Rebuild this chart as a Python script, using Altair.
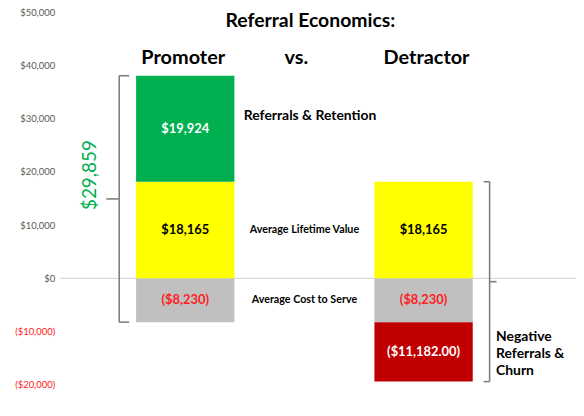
import altair as alt
import pandas as pd

FONT = "Lato"

cats = ["Promoter", "vs.", "Detractor"]
seg_bar = ["Promoter", "Promoter", "Promoter", "Detractor", "Detractor", "Detractor"]
seg_name = ["Average Cost to Serve", "Average Lifetime Value", "Referrals & Retention",
            "Average Cost to Serve", "Average Lifetime Value", "Negative Referrals & Churn"]
seg_value = [-8230, 18165, 19924, -8230, 18165, -11182]
seg_label = ["($8,230)", "$18,165", "$19,924", "($8,230)", "$18,165", "($11,182.00)"]
seg_text_color = ["#ff2020", "#000000", "#ffffff", "#ff2020", "#000000", "#ffffff"]
fill_domain = ["Average Cost to Serve", "Average Lifetime Value", "Referrals & Retention",
               "Negative Referrals & Churn"]
fill_range = ["#c0c0c0", "#ffff00", "#00b050", "#c00000"]
tick_values = [-20000, -10000, 0, 10000, 20000, 30000, 40000, 50000]

# stack segments
rows, pos, neg = [], {}, {}
for b, n, v, l, tc in zip(seg_bar, seg_name, seg_value, seg_label, seg_text_color):
    if v >= 0:
        y0 = pos.get(b, 0); y1 = y0 + v; pos[b] = y1
    else:
        y0 = neg.get(b, 0); y1 = y0 + v; neg[b] = y1
    rows.append(dict(bar=b, seg=n, y0=y0, y1=y1, mid=(y0 + y1) / 2, label=l, tcolor=tc))
segs = pd.DataFrame(rows)

def bracket_df(bar):
    s = segs[segs.bar == bar]
    top, bot = max(s.y1.max(), s.y0.max()), min(s.y1.min(), s.y0.min())
    return pd.DataFrame({"bar": [bar], "top": [top], "bot": [bot], "mid": [(top + bot) / 2],
                         "total": [f"${top + bot:,.0f}"]})

br_left = bracket_df("Promoter")
br_right = bracket_df("Detractor")

xscale = alt.Scale(domain=cats, paddingInner=0.175, paddingOuter=0.754, align=0.4254)
yscale = alt.Scale(domain=[-20000, 50000], nice=False, zero=False)
yaxis = alt.Axis(values=tick_values, domain=False, ticks=False, grid=False,
                 labelPadding=5, labelFont=FONT, labelFontSize=9.5,
                 labelExpr="datum.value < 0 ? '($' + format(-datum.value, ',') + ')' : '$' + format(datum.value, ',')",
                 labelColor=alt.expr("datum.value < 0 ? '#ff2020' : '#595959'"))

def X(bp=None):
    if bp is None:
        return alt.X("bar:N", scale=xscale, axis=None)
    return alt.X("bar:N", scale=xscale, axis=None, bandPosition=bp)

def Yq(f):
    return alt.Y(f"{f}:Q", scale=yscale, axis=yaxis, title=None)

GRAY = "#7f7f7f"

zero = alt.Chart(pd.DataFrame({"y": [0]})).mark_rule(color="#d9d9d9", strokeWidth=1.2).encode(
    y=Yq("y"))

bars = alt.Chart(segs).mark_rect().encode(
    x=X(), y=Yq("y0"), y2="y1:Q",
    color=alt.Color("seg:N", scale=alt.Scale(domain=fill_domain, range=fill_range), legend=None),
)

bar_text = alt.Chart(segs).mark_text(font=FONT, fontWeight="bold", fontSize=13).encode(
    x=X(), y=Yq("mid"), text="label:N", color=alt.Color("tcolor:N", scale=None)
)

mid_df = segs[(segs.bar == "Promoter") & (segs.seg.isin(["Average Cost to Serve", "Average Lifetime Value"]))].assign(bar="vs.")
mid_text = alt.Chart(mid_df).mark_text(font=FONT, fontWeight="bold", fontSize=10.8).encode(
    x=X(), y=Yq("mid"), text="seg:N"
)

ref_df = segs[segs.seg == "Referrals & Retention"].assign(bar="vs.")
ref_text = alt.Chart(ref_df).mark_text(font=FONT, fontWeight="bold", fontSize=14, align="left",
                                       dx=-61, dy=-13).encode(x=X(), y=Yq("mid"), text="seg:N")

neg_df = segs[segs.seg == "Negative Referrals & Churn"].assign(txt="Negative\nReferrals &\nChurn")
neg_text = alt.Chart(neg_df).mark_text(font=FONT, fontWeight="bold", fontSize=14, align="left",
                                       lineBreak="\n", lineHeight=17, dx=73, dy=-15).encode(
    x=X(), y=Yq("mid"), text="txt:N")

def bracket(df, bp, vx, cap_from, tick_to):
    v = alt.Chart(df).mark_rule(color=GRAY, strokeWidth=1.6, xOffset=vx).encode(
        x=X(bp), y=Yq("top"), y2="bot:Q")
    caps_df = pd.concat([df.assign(yy=df.top), df.assign(yy=df.bot)])
    caps = alt.Chart(caps_df).mark_rule(color=GRAY, strokeWidth=1.6, xOffset=cap_from, x2Offset=vx).encode(
        x=X(bp), x2=alt.X2("bar:N", bandPosition=bp), y=Yq("yy"))
    tick = alt.Chart(df).mark_rule(color=GRAY, strokeWidth=1.6, xOffset=vx, x2Offset=tick_to).encode(
        x=X(bp), x2=alt.X2("bar:N", bandPosition=bp), y=Yq("mid"))
    return v + caps + tick

left_br = bracket(br_left, 0, -17, -7, -30)
right_br = bracket(br_right, 1, 17, 11, 24)

total_text = alt.Chart(br_left).mark_text(font=FONT, fontSize=19, color="#00b050", angle=270,
                                          xOffset=-46, yOffset=-24).encode(
    x=X(0), y=Yq("mid"), text="total:N")

hdr_offsets = {"Promoter": -2, "vs.": -8, "Detractor": 3}
headers = None
for c in cats:
    h = alt.Chart(pd.DataFrame({"bar": [c]})).mark_text(
        font=FONT, fontWeight="bold", fontSize=20, dx=hdr_offsets[c]).encode(
        x=X(), y=alt.value(46), text="bar:N")
    headers = h if headers is None else headers + h

title_text = alt.Chart(pd.DataFrame({"bar": ["vs."], "t": ["Referral Economics:"]})).mark_text(
    font=FONT, fontWeight="bold", fontSize=19.5, dx=6).encode(x=X(), y=alt.value(9), text="t:N")

chart = alt.layer(zero, bars, bar_text, mid_text, ref_text, neg_text, left_br, right_br,
                  total_text, headers, title_text).properties(
    width=520, height=375, autosize="none",
    padding={"left": 52, "top": 3, "right": 0, "bottom": 20},
    background="white",
).configure_view(stroke=None)

chart.save("out.html", embed_options={"renderer": "svg", "actions": False})
